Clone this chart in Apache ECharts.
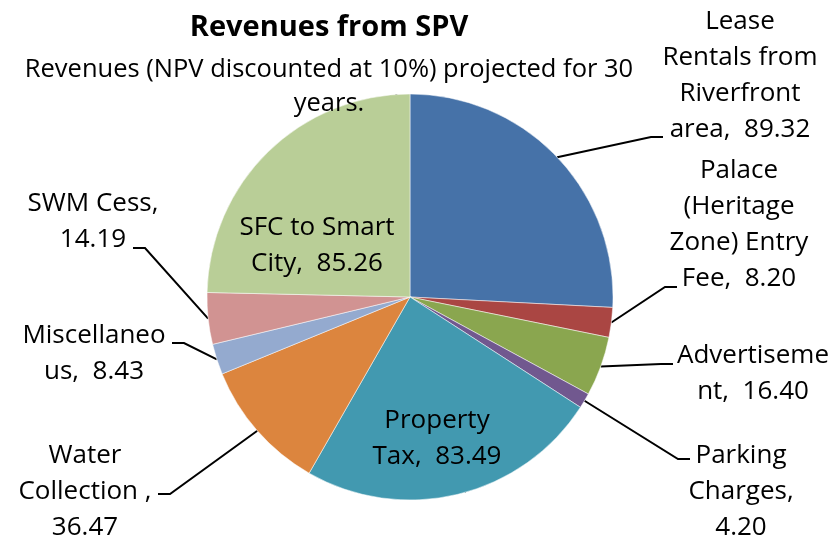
<!DOCTYPE html>
<html>
<head>
<meta charset="utf-8">
<script src="https://cdn.jsdelivr.net/npm/echarts@6/dist/echarts.min.js"></script>
<style>
html,body{margin:0;padding:0;background:#fff;}
#chart{width:835px;height:538px;}
</style>
</head>
<body>
<div id="chart"></div>
<script>
// ---- data ----
const categories = ['Lease Rentals from Riverfront area', 'Palace (Heritage Zone) Entry Fee', 'Advertisement', 'Parking Charges', 'Property Tax', 'Water Collection ', 'Miscellaneous', 'SWM Cess', 'SFC to Smart City'];
const values = [89.32, 8.20, 16.40, 4.20, 83.49, 36.47, 8.43, 14.19, 85.26];
// label text as wrapped in the original ({v} = value)
const labelTexts = [
  'Lease\nRentals from\nRiverfront\narea,  {v}',
  'Palace\n(Heritage\nZone) Entry\nFee,  {v}',
  'Advertiseme\nnt,  {v}',
  'Parking\nCharges,\n{v}',
  'Property\nTax,  {v}',
  'Water\nCollection ,\n{v}',
  'Miscellaneo\nus,  {v}',
  'SWM Cess,\n{v}',
  'SFC to Smart\nCity,  {v}'
];
const insideLabels = [4, 8];
const titleText = 'Revenues from SPV';
const subtitleText = 'Revenues (NPV discounted at 10%) projected for 30\nyears.';

// ---- styling / layout ----
const colors = ['#4672A8', '#AA4643', '#8AA64F', '#71588F', '#4299B0', '#DC853E', '#94AACF', '#D19392', '#B9CE97'];
const pieCenter = [410, 297];
const pieRadius = 203;
const labelPos = [[740, 76], [739, 225], [753, 374], [741, 492], [437, 439], [85, 492], [94, 354], [93, 222], [317, 246]];
const lineEnd = [[663, 137], [677, 287], [673, 364], [690, 459], null, [158, 494], [172, 343], [133, 248], null];
const FONT = '"Open Sans", "Noto Sans", sans-serif';

const chart = echarts.init(document.getElementById('chart'), null, {renderer: 'canvas'});

const data = categories.map((name, i) => ({
  name: name,
  value: values[i],
  itemStyle: {color: colors[i]},
  label: insideLabels.includes(i) ? {position: 'inside'} : {position: 'outside'}
}));

chart.setOption({
  backgroundColor: '#fff',
  animation: false,
  graphic: [
    {type: 'text', x: 329, y: 28, z: 100,
     style: {text: titleText, fontFamily: FONT, fontWeight: 'bold', fontSize: 29, fill: '#000', align: 'center', verticalAlign: 'middle'}},
    {type: 'text', x: 329, y: 53, z: 100,
     style: {text: subtitleText, fontFamily: FONT, fontSize: 25.5, lineHeight: 34, fill: '#000', align: 'center', verticalAlign: 'top'}}
  ],
  series: [{
    type: 'pie',
    center: pieCenter,
    radius: pieRadius,
    startAngle: 90,
    clockwise: true,
    avoidLabelOverlap: false,
    emphasis: {disabled: true},
    itemStyle: {borderWidth: 0.5, borderColor: '#fff'},
    label: {
      show: true,
      fontFamily: FONT,
      fontSize: 26,
      lineHeight: 36,
      color: '#000',
      align: 'center',
      formatter: p => labelTexts[p.dataIndex].replace('{v}', p.value.toFixed(2))
    },
    labelLine: {show: true, length: 15, length2: 12, lineStyle: {color: '#000', width: 2}},
    labelLayout: function (params) {
      const i = params.dataIndex;
      const p = labelPos[i];
      const out = {x: p[0], y: p[1], align: 'center', verticalAlign: 'middle'};
      const e = lineEnd[i];
      if (e && params.labelLinePoints && params.labelLinePoints[0]) {
        const s = params.labelLinePoints[0];
        const dir = e[0] > pieCenter[0] ? -1 : 1;
        out.labelLinePoints = [[s[0], s[1]], [e[0] + dir * 12, e[1]], [e[0], e[1]]];
      }
      return out;
    },
    data: data
  }]
});
</script>
</body>
</html>
